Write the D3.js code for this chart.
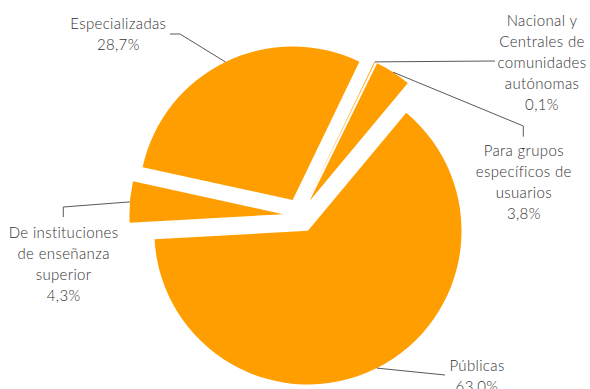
<!DOCTYPE html>
<html>
<head>
<meta charset="utf-8">
<script src="https://cdn.jsdelivr.net/npm/d3@7"></script>
<style>
  html, body { margin: 0; padding: 0; background: #fff; }
  svg { display: block; }
  text { font-family: Lato, "Open Sans", sans-serif; font-size: 15px; font-weight: 300; fill: #333333; letter-spacing: 0.35px; }
</style>
</head>
<body>
<svg id="chart" width="590" height="389"></svg>
<script>
// ---- data ----
const categories = [
  "Públicas",
  "De instituciones de enseñanza superior",
  "Especializadas",
  "Nacional y Centrales de comunidades autónomas",
  "Para grupos específicos de usuarios"
];
const values = [63.0, 4.3, 28.7, 0.1, 3.8];
const valueLabels = ["63,0%", "4,3%", "28,7%", "0,1%", "3,8%"];
const labelLines = [
  ["Públicas"],
  ["De instituciones", "de enseñanza", "superior"],
  ["Especializadas"],
  ["Nacional y", "Centrales de", "comunidades", "autónomas"],
  ["Para grupos", "específicos de", "usuarios"]
];

// ---- layout ----
const W = 590, H = 389;
const cx = 300.2, cy = 215.5;
const R = 153.6;
const explode = 17.2;
const startDeg = 39.8;
const lineH = 21;
const color = "#FF9E00";
// label anchor (center x, first baseline y) and leader elbow points
const labelLayout = [
  { x: 477,   y: 371,  leader: [[445, 375]] },
  { x: 63.6,  y: 238,  leader: [[63.3, 207], [63.3, 217]] },
  { x: 118.3, y: 29,   leader: [[180, 34], [170, 34]] },
  { x: 542,   y: 25.7, leader: [[495, 61]] },
  { x: 523.8, y: 156,  leader: [[523.3, 126], [523.3, 136.7]] }
];

const svg = d3.select("#chart");
const g = svg.append("g").attr("transform", `translate(${cx},${cy})`);

const data = categories.map((c, i) => ({ name: c, value: values[i], i }));
const start = startDeg * Math.PI / 180;
const pie = d3.pie().value(d => d.value).sort(null)
  .startAngle(start).endAngle(start + 2 * Math.PI);
const arc = d3.arc().innerRadius(0).outerRadius(R);

const arcs = pie(data);

function offset(a) {
  const m = (a.startAngle + a.endAngle) / 2;
  return [explode * Math.sin(m), -explode * Math.cos(m)];
}

g.selectAll("path.slice")
  .data(arcs)
  .join("path")
  .attr("class", "slice")
  .attr("d", arc)
  .attr("fill", color)
  .attr("transform", d => { const o = offset(d); return `translate(${o[0]},${o[1]})`; });

// leader lines
const lineGen = d3.line();
svg.append("g").selectAll("path.leader")
  .data(arcs)
  .join("path")
  .attr("class", "leader")
  .attr("fill", "none")
  .attr("stroke", "#595959")
  .attr("stroke-width", 1)
  .attr("d", d => {
    const m = (d.startAngle + d.endAngle) / 2;
    const o = offset(d);
    const p0 = [cx + o[0] + R * Math.sin(m), cy + o[1] - R * Math.cos(m)];
    return lineGen([p0, ...labelLayout[d.data.i].leader]);
  });

// labels
const labels = svg.append("g").selectAll("text.lbl")
  .data(arcs)
  .join("text")
  .attr("class", "lbl")
  .attr("text-anchor", "middle")
  .attr("x", d => labelLayout[d.data.i].x)
  .attr("y", d => labelLayout[d.data.i].y);

labels.each(function(d) {
  const t = d3.select(this);
  const lines = labelLines[d.data.i].concat([valueLabels[d.data.i]]);
  lines.forEach((ln, k) => {
    t.append("tspan")
      .attr("x", labelLayout[d.data.i].x)
      .attr("dy", k === 0 ? 0 : lineH)
      .text(ln);
  });
});
</script>
</body>
</html>
